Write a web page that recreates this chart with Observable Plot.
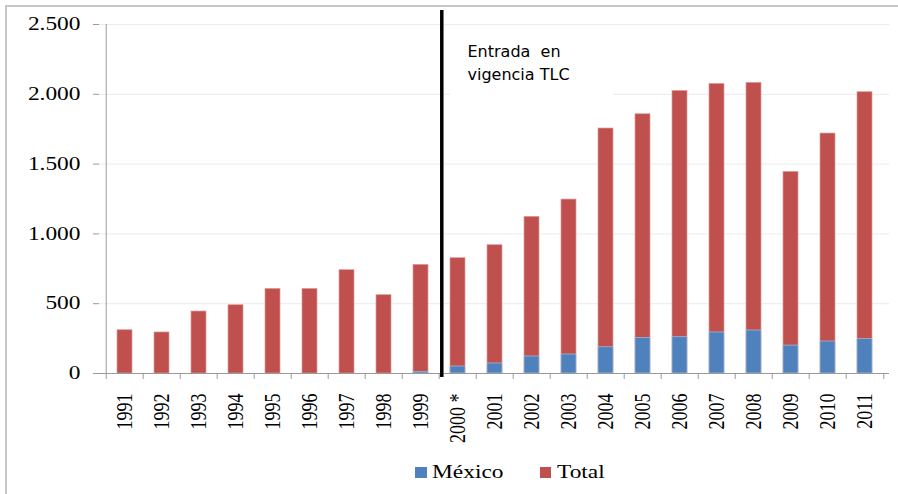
<!DOCTYPE html>
<html>
<head>
<meta charset="utf-8">
<script src="https://cdn.jsdelivr.net/npm/d3@7"></script>
<script src="https://cdn.jsdelivr.net/npm/@observablehq/plot@0.6"></script>
<style>
  html, body { margin: 0; padding: 0; background: #fff; }
  #wrap { position: relative; width: 898px; height: 494px; overflow: hidden; }
  #border { position: absolute; left: 5px; top: 5px; width: 900px; height: 500px;
            border-top: 2px solid #c6c6c6; border-left: 2px solid #c6c6c6; box-sizing: border-box; }
  #chart { position: absolute; left: 0; top: 0; }
  #legend { position: absolute; left: 0; top: 462px; width: 898px; height: 26px;
            font-family: "Liberation Serif", "Times New Roman", serif; font-size: 18px; color: #000; }
  .sw { position: absolute; width: 11.5px; height: 10.5px; top: 5.3px; }
  .lb { position: absolute; top: 0px; line-height: 20px; white-space: nowrap; transform: scaleX(1.3); transform-origin: left center; }
</style>
</head>
<body>
<div id="wrap">
  <div id="border"></div>
  <div id="chart"></div>
  <div id="legend"></div>
</div>
<script>
const years = ["1991","1992","1993","1994","1995","1996","1997","1998","1999","2000 *","2001","2002","2003","2004","2005","2006","2007","2008","2009","2010","2011"];
const total  = [310, 294, 444, 489, 606, 606, 740, 561, 778, 826, 919, 1122, 1246, 1755, 1857, 2024, 2074, 2082, 1444, 1719, 2015];
const mexico = [0, 0, 0, 0, 0, 0, 0, 0, 12, 50, 72, 122, 136, 188, 255, 260, 294, 308, 200, 229, 246];
const yTicks = [0, 500, 1000, 1500, 2000, 2500];
const seriesNames = ["México", "Total"];
const seriesColors = ["#4F81BD", "#C0504D"];
const annotation = "Entrada\u00a0 en\nvigencia TLC";
const treatyYear = "2000 *";
const annotationBoxEnd = "2004";

const rows = years.map((y, i) => ({year: y, total: total[i], mexico: mexico[i]}));
const fmt = d3.formatLocale({decimal: ",", thousands: ".", grouping: [3], currency: ["", ""]}).format(",");

const W = 898, H = 460, ML = 99, MR = 9, MT = 24, MB = 87;
const step = (W - ML - MR) / years.length;

const chart = Plot.plot({
  width: W, height: H,
  marginLeft: ML, marginRight: MR, marginTop: MT, marginBottom: MB,
  style: {fontFamily: "'Liberation Serif', 'Times New Roman', serif", color: "#000", background: "transparent"},
  x: {type: "band", domain: years, paddingInner: 0.6, paddingOuter: 0.3, label: null},
  y: {domain: [0, 2500], label: null},
  marks: [
    Plot.gridY(yTicks, {stroke: "#ebebeb", strokeOpacity: 1}),
    // white background of the annotation box (hides the grid line behind it)
    Plot.rect([0], {x1: () => treatyYear, x2: () => annotationBoxEnd, y1: 1985, y2: 2015, fill: "#fff"}),
    Plot.rectY(rows, {x: "year", y1: 0, y2: "total", fill: seriesColors[1], stroke: "#dc9b99", strokeWidth: 0.7}),
    Plot.rectY(rows.filter(d => d.mexico > 0), {x: "year", y1: 0, y2: "mexico", fill: seriesColors[0], stroke: "#a9bfdc", strokeWidth: 0.7}),
    // axis lines
    Plot.ruleY([0], {stroke: "#9a9a9a"}),
    Plot.ruleX([years[0]], {x: d => d, dx: -step / 2, y1: 0, y2: 2500, stroke: "#9a9a9a"}),
    // category boundary ticks
    Plot.ruleX(years, {x: d => d, dx: -step / 2, y1: 0, y2: 0, insetBottom: -6, stroke: "#9a9a9a"}),
    Plot.ruleX([years[years.length - 1]], {x: d => d, dx: step / 2, y1: 0, y2: 0, insetBottom: -6, stroke: "#9a9a9a"}),
    Plot.axisY({ticks: yTicks, tickFormat: fmt, tickSize: 6, tickPadding: 13, fontSize: 18, stroke: "#9a9a9a", fill: "#000"}),
    Plot.axisX({tickRotate: -90, tickSize: 0, tickPadding: 20, fontSize: 18, fill: "#000"}),
    // treaty line
    Plot.ruleX([treatyYear], {x: d => d, dx: -step / 2 + 2.6, y1: 2500, y2: 0, insetTop: -14, insetBottom: -4, stroke: "#000", strokeWidth: 3.5}),
    Plot.text([annotation], {x: () => treatyYear, frameAnchor: "top", dy: 55, dx: 9.5, textAnchor: "start", lineAnchor: "bottom", lineHeight: 1.4,
      fontFamily: "'DejaVu Sans', sans-serif", fontSize: 16, fill: "#000"})
  ]
});
document.getElementById("chart").appendChild(chart);

// horizontal stretch of the tick labels, as in the reference rendering
function stretch(selector, sx, sy) {
  chart.querySelectorAll(selector).forEach(t => {
    const tr = t.getAttribute("transform") || "";
    t.setAttribute("transform", `${tr} scale(${sx},${sy})`.trim());
  });
}
stretch('g[aria-label="y-axis tick label"] text', 1.3, 1);
stretch('g[aria-label="x-axis tick label"] text', 1, 1.3);

const legend = document.getElementById("legend");
const pos = [{sw: 415, lb: 432}, {sw: 539.5, lb: 557}];
seriesNames.forEach((name, i) => {
  const s = document.createElement("div");
  s.className = "sw"; s.style.left = pos[i].sw + "px"; s.style.background = seriesColors[i];
  const t = document.createElement("div");
  t.className = "lb"; t.style.left = pos[i].lb + "px"; t.textContent = name;
  legend.appendChild(s); legend.appendChild(t);
});
</script>
</body>
</html>
